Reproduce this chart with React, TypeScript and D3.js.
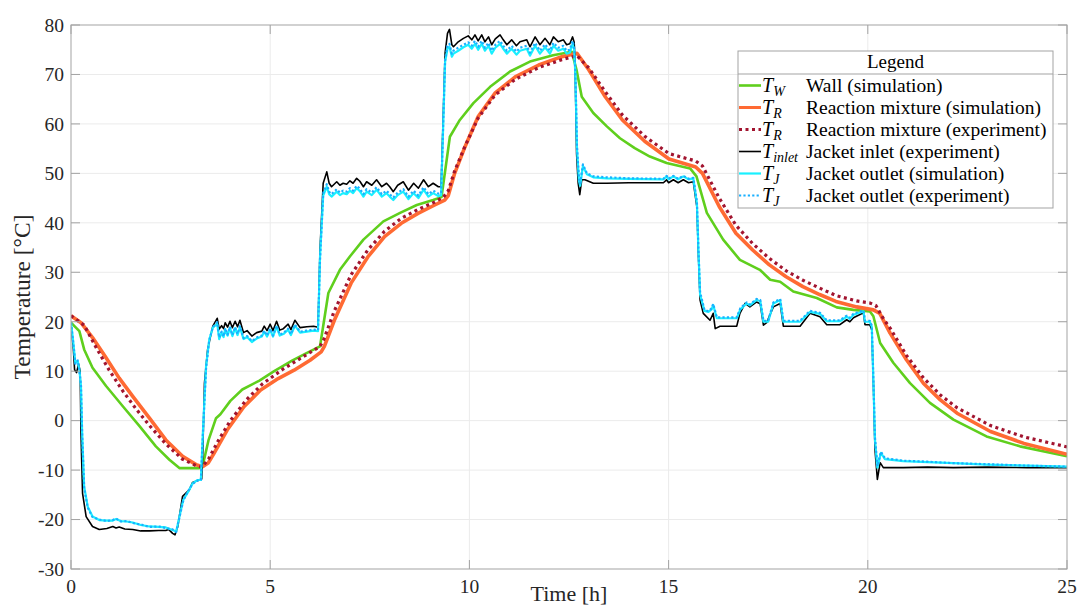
import React, { useEffect, useRef } from 'react';
import * as d3 from 'd3';

// time [h], temperature [°C]
const xTicks = [0, 5, 10, 15, 20, 25];
const yTicks = [-30, -20, -10, 0, 10, 20, 30, 40, 50, 60, 70, 80];

const wallSim = [
  [0, 19.8], [0.21, 18.1], [0.33, 14.4], [0.54, 10.7], [0.88, 7.0], [1.3, 2.9], [1.72, -1.1], [2.13, -5.2],
  [2.47, -7.9], [2.72, -9.6], [3.22, -9.6], [3.3, -9.3], [3.45, -4], [3.64, 0.5], [3.75, 1.3], [4.0, 4.0],
  [4.3, 6.3], [4.73, 8.1], [5.1, 10], [5.56, 12.2], [5.9, 13.6], [6.25, 15.0], [6.46, 25.8], [6.75, 30.5],
  [7.0, 33.2], [7.34, 36.6], [7.84, 40.3], [8.26, 42.0], [8.68, 43.6], [9.09, 44.6], [9.3, 45.2], [9.51, 57.4],
  [9.76, 60.8], [10.1, 64.2], [10.52, 67.5], [11.02, 70.6], [11.52, 72.6], [12.1, 73.9], [12.57, 74.6],
  [12.69, 70.9], [12.82, 65.5], [13.11, 62.2], [13.45, 59.5], [13.78, 57.1], [14.15, 55.1], [14.53, 53.4],
  [14.95, 52.1], [15.54, 51.0], [15.7, 49.4], [15.96, 42.0], [16.37, 36.6], [16.79, 32.5], [17.04, 31.5],
  [17.29, 30.5], [17.55, 28.5], [17.8, 28.1], [18.13, 26.1], [18.72, 24.8], [19.22, 22.9], [19.64, 22.4],
  [20.05, 22.1], [20.14, 21.1], [20.31, 15.7], [20.64, 11.7], [21.06, 7.6], [21.56, 3.6], [22.15, 0.2],
  [22.98, -3.2], [23.82, -5.2], [25, -7.2]
];

const mixSim = [
  [0, 21.2], [0.25, 19.8], [0.54, 16.8], [0.88, 12.7], [1.21, 8.6], [1.55, 4.9], [1.97, 0.5], [2.38, -3.9],
  [2.8, -7.2], [3.14, -8.9], [3.31, -9.3], [3.45, -8.5], [3.59, -6.6], [3.92, -1.9], [4.34, 2.8], [4.76, 6.2],
  [5.2, 8.5], [5.6, 10.2], [6.0, 12.2], [6.28, 13.9], [6.36, 15.0], [6.61, 20.3], [7.03, 27.8], [7.45, 33.1],
  [7.87, 37.2], [8.29, 39.9], [8.71, 41.9], [9.13, 43.6], [9.38, 44.6], [9.47, 45.5], [9.63, 50.0], [9.89, 55.4],
  [10.22, 61.5], [10.64, 66.2], [11.15, 69.5], [11.74, 71.9], [12.32, 73.6], [12.7, 74.3], [13.0, 70.9],
  [13.41, 65.5], [13.84, 60.8], [14.4, 56.5], [15.01, 52.9], [15.68, 51.3], [15.85, 50.0], [16.27, 43.3],
  [16.69, 37.9], [17.11, 34.5], [17.53, 31.5], [17.95, 29.1], [18.37, 27.1], [18.79, 25.5], [19.2, 24.1],
  [19.72, 23.0], [20.14, 22.4], [20.3, 21.7], [20.56, 17.7], [20.97, 12.3], [21.4, 7.5], [21.82, 4.2],
  [22.24, 1.5], [23.08, -2.2], [23.92, -4.6], [25, -6.8]
];

const mixExp = [
  [0, 21.2], [0.33, 19.3], [0.63, 14.8], [0.96, 10.2], [1.3, 6.0], [1.63, 2.4], [1.97, -1.0], [2.38, -4.7],
  [2.8, -7.8], [3.14, -9.1], [3.28, -9.4], [3.45, -7.8], [3.7, -4], [4.0, 0], [4.4, 4.2], [4.8, 7.4],
  [5.3, 10.3], [5.8, 12.8], [6.25, 15.0], [6.35, 16.5], [6.6, 22], [7.03, 29.5], [7.45, 34.5], [7.87, 38.3],
  [8.29, 40.9], [8.71, 42.7], [9.13, 44.2], [9.35, 45.2], [9.47, 46.5], [9.63, 50.5], [9.89, 55.5],
  [10.22, 61.2], [10.64, 65.8], [11.15, 69.0], [11.74, 71.4], [12.32, 73.0], [12.7, 73.8], [13.0, 71.3],
  [13.41, 66.5], [13.84, 61.8], [14.4, 57.5], [15.01, 54.0], [15.68, 52.5], [15.85, 51.5], [16.27, 45.0],
  [16.69, 39.5], [17.11, 35.8], [17.53, 32.8], [17.95, 30.3], [18.37, 28.4], [18.79, 26.8], [19.2, 25.3],
  [19.72, 24.2], [20.05, 23.8], [20.2, 23.3], [20.4, 20.5], [20.56, 18.7], [20.97, 13.2], [21.4, 8.6],
  [21.82, 5.2], [22.24, 2.6], [23.08, -1.0], [23.92, -3.3], [25, -5.3]
];

const inletExp = [
  [0, 19.5], [0.06, 14.4], [0.09, 10.3], [0.14, 9.7], [0.19, 11.4], [0.23, 10], [0.25, -2.5], [0.29, -14.7],
  [0.38, -19.4], [0.54, -21.4], [0.71, -22], [0.9, -21.8], [1.05, -21.4], [1.13, -21.7], [1.21, -21.5],
  [1.35, -21.9], [1.55, -22], [1.75, -22.3], [1.97, -22.3], [2.2, -22.2], [2.38, -22.2], [2.45, -22.0],
  [2.55, -22.8], [2.61, -23.1], [2.68, -21.4], [2.8, -15.3], [2.97, -14], [3.05, -12.5], [3.22, -12],
  [3.28, -11.8], [3.31, -5.9], [3.35, 7.6], [3.43, 14.4], [3.56, 19.1], [3.67, 20.7], [3.72, 18.5],
  [3.78, 19.2], [3.83, 18.6], [3.87, 19.8], [3.93, 18.9], [3.99, 20.1], [4.05, 18.8], [4.12, 20.1],
  [4.18, 19.0], [4.24, 20.3], [4.33, 17.8], [4.42, 18.2], [4.54, 17.1], [4.66, 17.8], [4.79, 18.1],
  [4.85, 19.1], [4.92, 18.2], [5.0, 19.5], [5.07, 18.2], [5.16, 20.1], [5.24, 18.3], [5.33, 18.6],
  [5.45, 19.5], [5.52, 18.4], [5.62, 20.3], [5.75, 18.8], [5.92, 19.0], [6.09, 19.1], [6.2, 18.9],
  [6.25, 34.5], [6.33, 48], [6.42, 50.3], [6.48, 48], [6.54, 47.3], [6.67, 48.3], [6.75, 47.6], [6.83, 48],
  [6.92, 47.8], [7.0, 48.5], [7.08, 48.0], [7.17, 49], [7.25, 48.4], [7.34, 47.3], [7.42, 48.3], [7.55, 47.6],
  [7.67, 48.7], [7.8, 47.3], [7.92, 48], [8.0, 47.3], [8.09, 46.3], [8.2, 47.6], [8.34, 48.3], [8.47, 46.6],
  [8.6, 48.0], [8.72, 47.0], [8.85, 48.7], [8.97, 47.3], [9.09, 48], [9.22, 47.3], [9.29, 47.3], [9.39, 74.3],
  [9.45, 78.3], [9.5, 79.1], [9.56, 76], [9.6, 75.6], [9.72, 76.6], [9.85, 77.3], [9.97, 77.8], [10.06, 77],
  [10.14, 78], [10.22, 76.8], [10.31, 78], [10.39, 76.6], [10.48, 77.6], [10.56, 76], [10.65, 77.2],
  [10.77, 78], [10.85, 77], [10.94, 76], [11.06, 77], [11.18, 75.8], [11.27, 76.6], [11.44, 77], [11.52, 75.6],
  [11.65, 77.6], [11.77, 76], [11.9, 77.3], [12.02, 76], [12.11, 77.6], [12.23, 76.6], [12.36, 77],
  [12.44, 76], [12.52, 76.2], [12.59, 77.6], [12.63, 76.5], [12.65, 73], [12.69, 54], [12.73, 48],
  [12.77, 45.7], [12.82, 48.7], [12.9, 48.7], [13.11, 48], [13.45, 48], [14.0, 48.1], [14.87, 48.1],
  [14.95, 48.7], [15.0, 48.1], [15.12, 48.7], [15.24, 48.1], [15.37, 48.7], [15.5, 48.1], [15.62, 48.3],
  [15.71, 43.2], [15.75, 33.1], [15.79, 24.4], [15.87, 21.7], [16.04, 20.3], [16.12, 21.7], [16.17, 18.6],
  [16.29, 19.1], [16.71, 19.1], [16.79, 21.7], [16.92, 23.7], [17.04, 23], [17.21, 24], [17.3, 23.6],
  [17.38, 19.3], [17.46, 19.8], [17.63, 23], [17.8, 23.7], [17.88, 19.1], [18.3, 19.1], [18.55, 21.7],
  [18.8, 21], [18.97, 19.4], [19.3, 19.4], [19.47, 20.4], [19.55, 20.0], [19.64, 20.8], [19.89, 21.8],
  [19.93, 19.4], [20.05, 19.4], [20.1, 18.4], [20.14, 7.6], [20.18, -5.8], [20.24, -11.9], [20.31, -8.5],
  [20.39, -9.5], [20.89, -9.5], [21.5, -9.4], [22.15, -9.5], [23, -9.4], [24, -9.5], [25, -9.5]
];

const outletSim = [
  [0, 19.8], [0.05, 16.4], [0.11, 11.7], [0.17, 12], [0.21, 10.3], [0.25, 7], [0.28, -2.5], [0.33, -13.3],
  [0.42, -17.4], [0.54, -19.4], [0.71, -20.1], [0.9, -20.2], [1.05, -20.2], [1.13, -19.9], [1.25, -20.3],
  [1.4, -20.4], [1.55, -20.6], [1.75, -21.1], [1.97, -21.4], [2.2, -21.5], [2.38, -21.6], [2.55, -22.1],
  [2.64, -22.4], [2.76, -18], [2.82, -16], [2.97, -14], [3.05, -12.7], [3.18, -12], [3.26, -12], [3.31, -2.5],
  [3.39, 11], [3.47, 16.4], [3.56, 18.8], [3.67, 19.6], [3.72, 16.5], [3.78, 17.8], [3.83, 16.9], [3.87, 18.5],
  [3.93, 17.2], [3.99, 18.8], [4.05, 17.1], [4.12, 18.7], [4.18, 17.3], [4.24, 18.9], [4.33, 16.5],
  [4.42, 16.9], [4.54, 15.9], [4.66, 16.6], [4.79, 17.0], [4.85, 18.0], [4.92, 17.0], [5.0, 18.4],
  [5.07, 17.0], [5.16, 19.0], [5.24, 17.2], [5.33, 17.5], [5.45, 18.4], [5.52, 17.3], [5.62, 19.2],
  [5.75, 17.8], [5.92, 18.0], [6.09, 18.2], [6.2, 18.1], [6.25, 33], [6.33, 45.5], [6.42, 47.3], [6.48, 45.8],
  [6.54, 45.3], [6.67, 46.3], [6.75, 45.6], [6.83, 46], [6.92, 45.8], [7.0, 46.5], [7.08, 46.0], [7.17, 47],
  [7.25, 46.4], [7.34, 45.3], [7.42, 46.3], [7.55, 45.6], [7.67, 46.7], [7.8, 45.3], [7.92, 46], [8.0, 45.3],
  [8.09, 44.6], [8.2, 45.6], [8.34, 46.3], [8.47, 44.8], [8.6, 46.0], [8.72, 45.0], [8.85, 46.7], [8.97, 45.3],
  [9.09, 46], [9.22, 45.4], [9.29, 45.6], [9.39, 72.5], [9.45, 75.2], [9.5, 75.6], [9.56, 73.6], [9.6, 74.2],
  [9.72, 74.8], [9.85, 75.5], [9.97, 76.0], [10.06, 75.2], [10.14, 76.2], [10.22, 75.0], [10.31, 76.2],
  [10.39, 74.8], [10.48, 75.8], [10.56, 74.2], [10.65, 75.4], [10.77, 76.2], [10.85, 75.2], [10.94, 74.2],
  [11.06, 75.2], [11.18, 74.0], [11.27, 74.8], [11.44, 75.2], [11.52, 73.8], [11.65, 75.8], [11.77, 74.2],
  [11.9, 75.5], [12.02, 74.2], [12.11, 75.8], [12.23, 74.8], [12.36, 75.2], [12.44, 74.2], [12.52, 74.4],
  [12.59, 76.2], [12.63, 75], [12.66, 70], [12.7, 55], [12.75, 48.5], [12.78, 47.5], [12.85, 51.5],
  [12.95, 49.8], [13.11, 49.2], [13.45, 49.0], [14.0, 48.9], [14.87, 48.8], [14.95, 49.4], [15.0, 48.8],
  [15.12, 49.4], [15.24, 48.8], [15.37, 49.4], [15.5, 48.8], [15.62, 49], [15.71, 44], [15.75, 34],
  [15.79, 25.5], [15.9, 22.2], [16.0, 22], [16.08, 22.5], [16.12, 23.4], [16.21, 20.7], [16.71, 20.7],
  [16.8, 22.5], [16.96, 23.7], [17.04, 23.3], [17.21, 24.4], [17.3, 24.2], [17.38, 20], [17.5, 20],
  [17.63, 23.7], [17.8, 24.4], [17.88, 20], [18.3, 20], [18.55, 22], [18.8, 21.6], [18.97, 20.1], [19.3, 20.1],
  [19.47, 21.0], [19.55, 20.6], [19.64, 21.4], [19.89, 22.1], [19.93, 20], [20.05, 20], [20.1, 19], [20.14, 8],
  [20.18, -3.8], [20.24, -9.5], [20.33, -6.5], [20.43, -7.8], [20.89, -8.2], [21.5, -8.4], [22.15, -8.6],
  [22.98, -8.9], [24, -9.1], [25, -9.3]
];

const outletExp = [
  [0, 19.8], [0.05, 16.2], [0.11, 11.5], [0.17, 12.2], [0.21, 10.1], [0.25, 7.2], [0.28, -2.8], [0.33, -13.6],
  [0.42, -17.6], [0.54, -19.5], [0.71, -20.0], [0.9, -20.3], [1.05, -20.1], [1.13, -19.8], [1.25, -20.4],
  [1.4, -20.3], [1.55, -20.7], [1.75, -21.0], [1.97, -21.5], [2.2, -21.4], [2.38, -21.7], [2.55, -22.0],
  [2.64, -22.5], [2.76, -18.2], [2.82, -16.1], [2.97, -13.8], [3.05, -12.8], [3.18, -12.1], [3.26, -12],
  [3.31, -2.8], [3.39, 10.6], [3.47, 16.2], [3.56, 18.9], [3.67, 19.9], [3.72, 16.8], [3.78, 18.0],
  [3.83, 17.0], [3.87, 18.7], [3.93, 17.4], [3.99, 19.0], [4.05, 17.3], [4.12, 18.9], [4.18, 17.5],
  [4.24, 19.1], [4.33, 16.7], [4.42, 17.1], [4.54, 16.1], [4.66, 16.8], [4.79, 17.2], [4.85, 18.2],
  [4.92, 17.2], [5.0, 18.6], [5.07, 17.2], [5.16, 19.2], [5.24, 17.4], [5.33, 17.7], [5.45, 18.6],
  [5.52, 17.5], [5.62, 19.4], [5.75, 18.0], [5.92, 18.2], [6.09, 18.4], [6.2, 18.3], [6.25, 32.5],
  [6.33, 46], [6.42, 47.8], [6.48, 46.3], [6.54, 45.8], [6.67, 46.8], [6.75, 46.1], [6.83, 46.5], [6.92, 46.3],
  [7.0, 47.0], [7.08, 46.5], [7.17, 47.5], [7.25, 46.9], [7.34, 45.8], [7.42, 46.8], [7.55, 46.1], [7.67, 47.2],
  [7.8, 45.8], [7.92, 46.5], [8.0, 45.8], [8.09, 45.1], [8.2, 46.1], [8.34, 46.8], [8.47, 45.3], [8.6, 46.5],
  [8.72, 45.5], [8.85, 47.2], [8.97, 45.8], [9.09, 46.5], [9.22, 45.9], [9.29, 46.0], [9.39, 73.0],
  [9.45, 75.8], [9.5, 76.2], [9.56, 74.2], [9.6, 74.8], [9.72, 75.4], [9.85, 76.0], [9.97, 76.5],
  [10.06, 75.8], [10.14, 76.8], [10.22, 75.6], [10.31, 76.8], [10.39, 75.4], [10.48, 76.4], [10.56, 74.8],
  [10.65, 76.0], [10.77, 76.8], [10.85, 75.8], [10.94, 74.8], [11.06, 75.8], [11.18, 74.6], [11.27, 75.4],
  [11.44, 75.8], [11.52, 74.4], [11.65, 76.4], [11.77, 74.8], [11.9, 76.1], [12.02, 74.8], [12.11, 76.4],
  [12.23, 75.4], [12.36, 75.8], [12.44, 74.8], [12.52, 75.0], [12.59, 76.8], [12.63, 75.5], [12.66, 70.5],
  [12.7, 55.5], [12.75, 49], [12.78, 48], [12.85, 51.8], [12.95, 50.0], [13.11, 49.4], [13.45, 49.2],
  [14.0, 49.0], [14.87, 48.9], [14.95, 49.5], [15.0, 48.9], [15.12, 49.5], [15.24, 48.9], [15.37, 49.5],
  [15.5, 48.9], [15.62, 49.1], [15.71, 44.3], [15.75, 34.5], [15.79, 26], [15.9, 22.4], [16.0, 22.1],
  [16.08, 22.7], [16.12, 23.6], [16.21, 20.9], [16.71, 20.9], [16.8, 22.7], [16.96, 23.9], [17.04, 23.5],
  [17.21, 24.6], [17.3, 24.4], [17.38, 20.2], [17.5, 20.2], [17.63, 23.9], [17.8, 24.6], [17.88, 20.2],
  [18.3, 20.2], [18.55, 22.2], [18.8, 21.8], [18.97, 20.3], [19.3, 20.3], [19.47, 21.2], [19.55, 20.8],
  [19.64, 21.6], [19.89, 22.3], [19.93, 20.2], [20.05, 20.2], [20.1, 19.2], [20.14, 8.5], [20.18, -3.5],
  [20.24, -9.2], [20.33, -6.3], [20.43, -7.6], [20.89, -8.1], [21.5, -8.3], [22.15, -8.6], [22.98, -8.8],
  [24, -9.1], [25, -9.3]
];

const series = [
  { sym: 'T', sub: 'W', label: 'Wall (simulation)', data: wallSim, color: '#5fcf1d', width: 2.6, dash: null },
  { sym: 'T', sub: 'R', label: 'Reaction mixture (simulation)', data: mixSim, color: '#ff6a33', width: 3.6, dash: null },
  { sym: 'T', sub: 'R', label: 'Reaction mixture (experiment)', data: mixExp, color: '#a2142f', width: 3.2, dash: '3,3.5' },
  { sym: 'T', sub: 'inlet', label: 'Jacket inlet (experiment)', data: inletExp, color: '#000000', width: 1.6, dash: null },
  { sym: 'T', sub: 'J', label: 'Jacket outlet (simulation)', data: outletSim, color: '#19f0ff', width: 2.2, dash: null },
  { sym: 'T', sub: 'J', label: 'Jacket outlet (experiment)', data: outletExp, color: '#1ab0ff', width: 2.2, dash: '2.2,2.2' }
];

const W = 1078;
const H = 608;
const FONT = '"Liberation Serif", "Times New Roman", serif';

function App() {
  const ref = useRef(null);

  useEffect(() => {
    document.body.style.margin = '0';
    const svg = d3.select(ref.current);
    svg.selectAll('*').remove();

    const x = d3.scaleLinear().domain([0, 25]).range([71, 1067]);
    const y = d3.scaleLinear().domain([-30, 80]).range([569, 25]);
    const [x0, x1] = x.range();
    const [y0, y1] = y.range();
    const axisColor = '#a3a3a3';

    svg.append('rect').attr('width', W).attr('height', H).attr('fill', '#fff');

    // grid
    const grid = svg.append('g').attr('stroke', '#ebebeb').attr('stroke-width', 1);
    grid.selectAll('line.v').data(xTicks.slice(1, -1)).join('line')
      .attr('x1', d => x(d)).attr('x2', d => x(d)).attr('y1', y1).attr('y2', y0);
    grid.selectAll('line.h').data(yTicks.slice(1, -1)).join('line')
      .attr('class', 'h')
      .attr('x1', x0).attr('x2', x1).attr('y1', d => y(d)).attr('y2', d => y(d));

    svg.append('clipPath').attr('id', 'plot-clip')
      .append('rect').attr('x', x0).attr('y', y1).attr('width', x1 - x0).attr('height', y0 - y1);

    const line = d3.line().x(d => x(d[0])).y(d => y(d[1]));
    svg.append('g').attr('clip-path', 'url(#plot-clip)')
      .selectAll('path').data(series).join('path')
      .attr('d', d => line(d.data))
      .attr('fill', 'none')
      .attr('stroke', d => d.color)
      .attr('stroke-width', d => d.width)
      .attr('stroke-dasharray', d => d.dash)
      .attr('stroke-linejoin', 'round');

    // box and inward ticks
    const ax = svg.append('g').attr('stroke', axisColor).attr('stroke-width', 1);
    ax.append('rect').attr('x', x0).attr('y', y1).attr('width', x1 - x0).attr('height', y0 - y1).attr('fill', 'none');
    const tl = 9;
    xTicks.forEach(t => {
      ax.append('line').attr('x1', x(t)).attr('x2', x(t)).attr('y1', y0).attr('y2', y0 - tl);
      ax.append('line').attr('x1', x(t)).attr('x2', x(t)).attr('y1', y1).attr('y2', y1 + tl);
    });
    yTicks.forEach(t => {
      ax.append('line').attr('x1', x0).attr('x2', x0 + tl).attr('y1', y(t)).attr('y2', y(t));
      ax.append('line').attr('x1', x1).attr('x2', x1 - tl).attr('y1', y(t)).attr('y2', y(t));
    });

    const labels = svg.append('g').attr('font-family', FONT).attr('fill', '#262626');
    labels.selectAll('text.x').data(xTicks).join('text')
      .attr('x', d => x(d)).attr('y', 593)
      .attr('text-anchor', 'middle').attr('font-size', 19.5)
      .text(d => d);
    labels.selectAll('text.y').data(yTicks).join('text')
      .attr('class', 'y')
      .attr('x', 64).attr('y', d => y(d)).attr('dy', '0.35em')
      .attr('text-anchor', 'end').attr('font-size', 19.5)
      .text(d => d);

    labels.append('text').attr('x', (x0 + x1) / 2).attr('y', 601)
      .attr('text-anchor', 'middle').attr('font-size', 22).text('Time [h]');
    labels.append('text')
      .attr('transform', `translate(30,${(y0 + y1) / 2}) rotate(-90)`)
      .attr('text-anchor', 'middle').attr('font-size', 23.5).text('Temperature [°C]');

    // legend
    const lg = svg.append('g').attr('font-family', FONT);
    lg.append('rect').attr('x', 738).attr('y', 51).attr('width', 315).attr('height', 157)
      .attr('fill', '#fff').attr('stroke', axisColor);
    lg.append('line').attr('x1', 738).attr('x2', 1053).attr('y1', 74).attr('y2', 74).attr('stroke', axisColor);
    lg.append('text').attr('x', 895.5).attr('y', 68).attr('text-anchor', 'middle')
      .attr('font-size', 19).attr('fill', '#000').text('Legend');

    const row = lg.selectAll('g.row').data(series).join('g')
      .attr('transform', (d, i) => `translate(0,${85.5 + i * 22})`);
    row.append('line').attr('x1', 739).attr('x2', 761).attr('y1', 0).attr('y2', 0)
      .attr('stroke', d => d.color).attr('stroke-width', d => Math.min(d.width, 3))
      .attr('stroke-dasharray', d => d.dash);
    const sym = row.append('text').attr('x', 762).attr('y', 6).attr('font-style', 'italic').attr('fill', '#000');
    sym.append('tspan').attr('font-size', 20).text(d => d.sym);
    sym.append('tspan').attr('font-size', 14).attr('dy', 4).text(d => d.sub);
    row.append('text').attr('x', 806).attr('y', 6).attr('font-size', 19.5).attr('fill', '#000')
      .text(d => d.label);
  }, []);

  return <svg ref={ref} width={W} height={H} style={{ display: 'block' }} />;
}

export default App;
